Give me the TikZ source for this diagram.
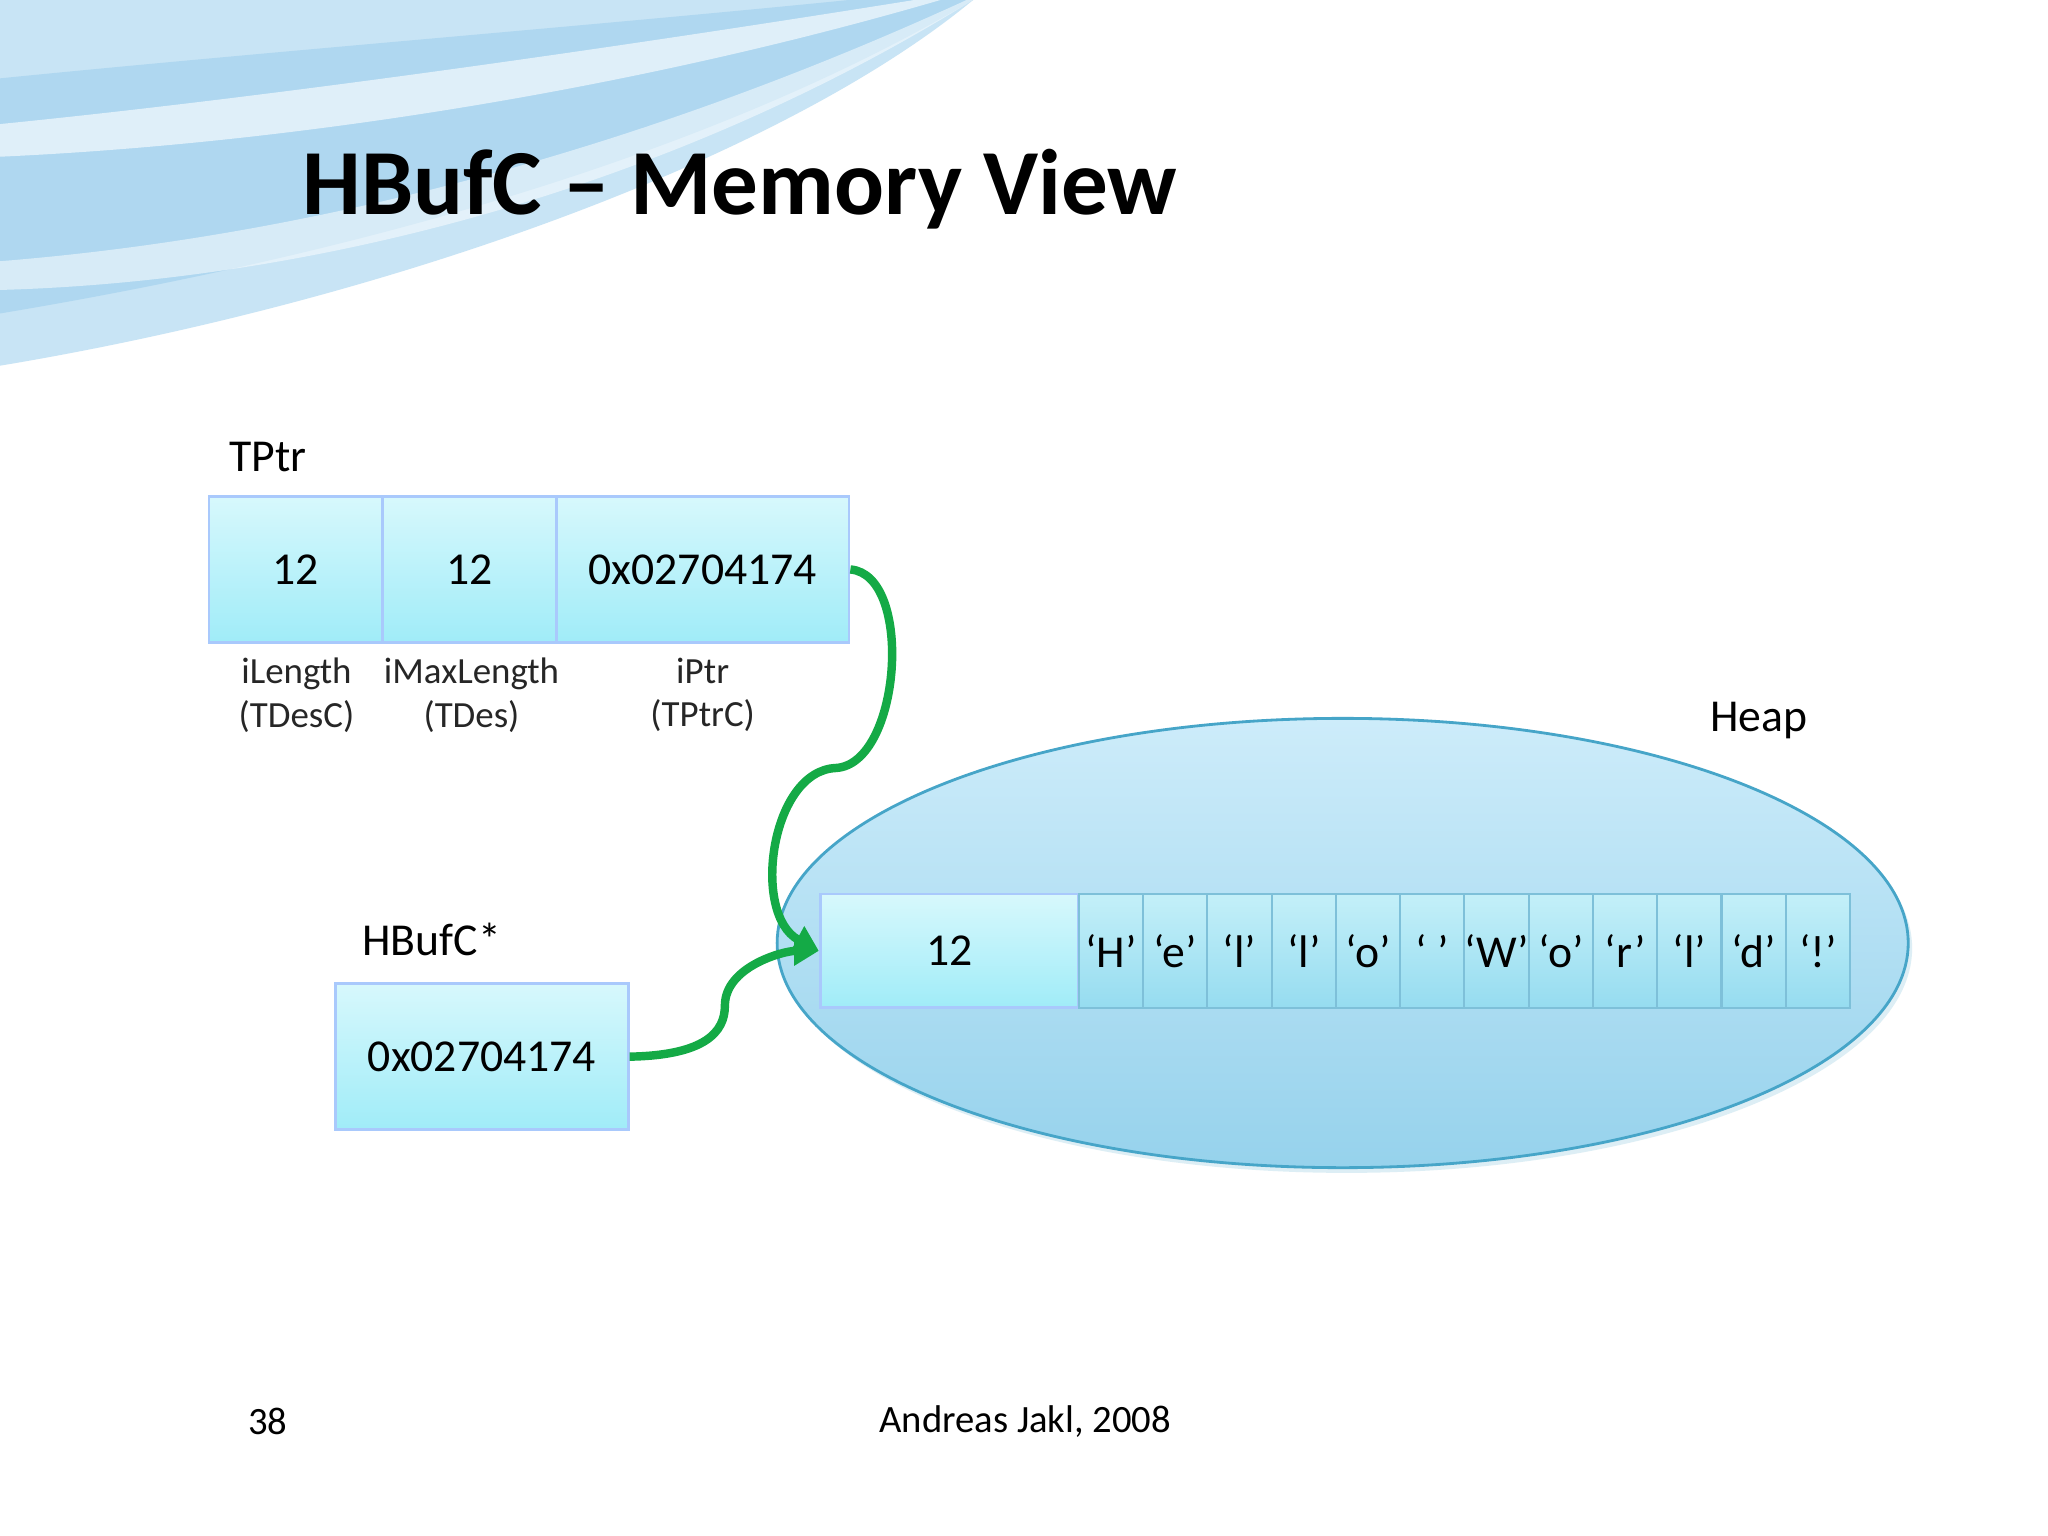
\documentclass[tikz,border=0pt]{standalone}
\usepackage{fontspec}
\setmainfont{Carlito}
\usetikzlibrary{arrows.meta}
\definecolor{cellA}{RGB}{215,248,252}
\definecolor{cellB}{RGB}{160,236,248}
\definecolor{cellE}{RGB}{150,220,240}
\definecolor{ellA}{RGB}{205,236,250}
\definecolor{ellB}{RGB}{150,210,236}
\definecolor{ellD}{RGB}{70,165,200}
\definecolor{arr}{RGB}{20,170,70}
\definecolor{sky}{RGB}{200,228,245}
\definecolor{skyD}{RGB}{175,215,240}
\begin{document}
\begin{tikzpicture}[x=0.013061cm,y=-0.013061cm,
 cell/.style={draw=cellB!70!blue!60,line width=0.8pt,top color=cellA,bottom color=cellB,minimum height=112*0.013061cm,inner sep=0pt,font=\fontsize{13}{15}\selectfont},
 hcell/.style={draw=ellD!70,line width=0.6pt,top color=cellA!70!cellE,bottom color=cellE,minimum height=87*0.013061cm,inner sep=0pt,font=\fontsize{13}{15}\selectfont},
 lbl/.style={font=\fontsize{10.5}{12.5}\selectfont,align=center,text=black!85},
 ptr/.style={draw=arr,line width=2.4pt,-{Triangle[length=7pt,width=8pt]}}]
\useasboundingbox (0,0) rectangle (1568,1176);
\fill[white] (0,0) rectangle (1568,1176);
% background swirl
\fill[sky] (0,0) -- (745,0) .. controls (600,120) and (300,230) .. (0,280) -- cycle;
\fill[skyD] (0,60) .. controls (200,40) and (450,20) .. (650,0) -- (745,0) .. controls (560,110) and (300,190) .. (0,240) -- cycle;
\fill[white,opacity=0.6] (0,95) .. controls (200,75) and (450,40) .. (700,0) -- (720,0) .. controls (480,70) and (220,110) .. (0,120) -- cycle;
\fill[white,opacity=0.5] (0,200) .. controls (250,180) and (500,110) .. (740,0) -- (745,0) .. controls (520,140) and (250,215) .. (0,222) -- cycle;
\node[anchor=west,font=\fontsize{26.5}{30}\selectfont\bfseries] (title) at (222,145) {HBufC – Memory View};
% TPtr
\node[anchor=west,font=\fontsize{13}{15}\selectfont] (tptr) at (166,350) {TPtr};
\node[cell,minimum width=133*0.013061cm] (c1) at (226.5,436) {12};
\node[cell,minimum width=133*0.013061cm] (c2) at (359.5,436) {12};
\node[cell,minimum width=224*0.013061cm] (c3) at (538,436) {0x02704174};
\node[lbl] (l1) at (227,532) {iLength\\(TDesC)};
\node[lbl] (l2) at (361,532) {iMaxLength\\(TDes)};
\node[lbl] (l3) at (538,532) {iPtr\\(TPtrC)};
% HBufC*
\node[anchor=west,font=\fontsize{13}{15}\selectfont] (hb) at (268,719) {HBufC*};
\node[cell,minimum width=224*0.013061cm] (hp) at (369,809) {0x02704174};
% heap
\node[anchor=west,font=\fontsize{13}{15}\selectfont] (heap) at (1300,552) {Heap};
\fill[ellD!60,opacity=0.3] (1031,726) ellipse [x radius=433,y radius=172];
\shade[top color=ellA,bottom color=ellB] (1028,722) ellipse [x radius=433,y radius=172];
\draw[ellD,line width=0.8pt] (1028,722) ellipse [x radius=433,y radius=172];
\node[cell,minimum width=198*0.013061cm,minimum height=87*0.013061cm] (h0) at (727,728) {12};
\foreach \t [count=\i] in {‘H’,‘e’,‘l’,‘l’,‘o’,‘ ’,‘W’,‘o’,‘r’,‘l’,‘d’,‘!’}{
  \node[hcell,minimum width=49.2*0.013061cm] (h\i) at ({826+49.2*(\i-0.5)},728) {\t};
}
\draw[ptr] (c3.east) .. controls (700,440) and (690,585) .. (640,588) .. controls (590,590) and (575,700) .. (h0.west);
\draw[ptr] (hp.east) .. controls (540,808) and (555,790) .. (555,770) .. controls (555,740) and (600,728) .. (h0.west);
\node[font=\fontsize{11}{13}\selectfont] (pg) at (205,1088) {38};
\node[font=\fontsize{11}{13}\selectfont] (au) at (785,1088) {Andreas Jakl, 2008};
\end{tikzpicture}
\end{document}
